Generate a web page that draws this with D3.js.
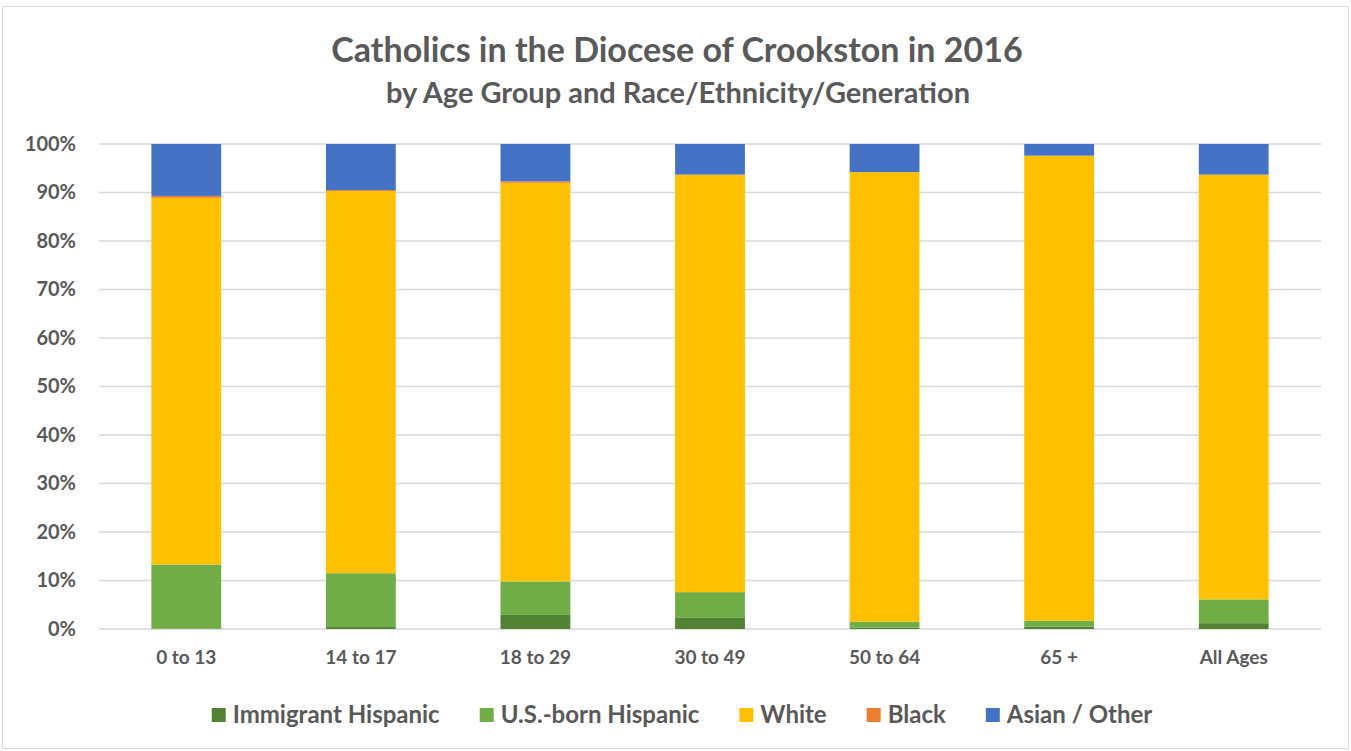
<!DOCTYPE html>
<html>
<head>
<meta charset="utf-8">
<script src="https://cdn.jsdelivr.net/npm/d3@7"></script>
<style>
  body { margin: 0; background: #fff; }
  svg { display: block; font-family: Lato, "Open Sans", sans-serif; }
</style>
</head>
<body>
<svg id="chart" width="1351" height="751"></svg>
<script>
const ageGroups = ['0 to 13', '14 to 17', '18 to 29', '30 to 49', '50 to 64', '65 +', 'All Ages'];
const seriesNames = ['Immigrant Hispanic', 'U.S.-born Hispanic', 'White', 'Black', 'Asian / Other'];
const immigrantHispanic = [0.1, 0.4, 2.9, 2.4, 0.3, 0.5, 1.2];
const usBornHispanic = [13.2, 11.1, 6.9, 5.2, 1.2, 1.2, 4.9];
const white = [75.6, 78.8, 82.2, 86.0, 92.7, 95.9, 87.5];
const black = [0.4, 0.2, 0.3, 0.1, 0.0, 0.0, 0.1];
const asianOther = [10.7, 9.5, 7.7, 6.3, 5.8, 2.4, 6.3];
const yTicks = [0, 10, 20, 30, 40, 50, 60, 70, 80, 90, 100];
const colors = ['#548235', '#70ad47', '#ffc000', '#ed7d31', '#4472c4'];

const svg = d3.select('#chart');
const width = +svg.attr('width');
const height = +svg.attr('height');
const margin = { top: 144, right: 30, bottom: 122, left: 99 };
const innerWidth = width - margin.left - margin.right;
const innerHeight = height - margin.top - margin.bottom;

// chart frame
svg.append('rect')
  .attr('x', 2.5).attr('y', 6.5)
  .attr('width', width - 5).attr('height', height - 9)
  .attr('fill', '#fff').attr('stroke', '#d9d9d9').attr('stroke-width', 1);

svg.append('text')
  .attr('x', 677).attr('y', 62)
  .attr('text-anchor', 'middle')
  .attr('font-size', 34).attr('font-weight', 700).attr('fill', '#595959')
  .text('Catholics in the Diocese of Crookston in 2016');
svg.append('text')
  .attr('x', 678).attr('y', 103)
  .attr('text-anchor', 'middle')
  .attr('font-size', 29).attr('font-weight', 700).attr('fill', '#595959')
  .text('by Age Group and Race/Ethnicity/Generation');

const rows = ageGroups.map((g, i) => ({
  group: g,
  [seriesNames[0]]: immigrantHispanic[i],
  [seriesNames[1]]: usBornHispanic[i],
  [seriesNames[2]]: white[i],
  [seriesNames[3]]: black[i],
  [seriesNames[4]]: asianOther[i]
}));
const stacked = d3.stack().keys(seriesNames)(rows);

const x = d3.scaleBand().domain(ageGroups).range([0, innerWidth]).paddingInner(0.6).paddingOuter(0.3);
const y = d3.scaleLinear().domain([0, 100]).range([innerHeight, 0]);

const g = svg.append('g').attr('transform', `translate(${margin.left},${margin.top})`);

// gridlines
g.append('g')
  .selectAll('line')
  .data(yTicks)
  .join('line')
  .attr('x1', 0).attr('x2', innerWidth)
  .attr('y1', d => y(d)).attr('y2', d => y(d))
  .attr('stroke', '#d9d9d9').attr('stroke-width', 1.5);

const yAxis = g.append('g')
  .call(d3.axisLeft(y).tickValues(yTicks).tickFormat(d => d + '%').tickSize(0).tickPadding(23));
yAxis.select('.domain').remove();
yAxis.selectAll('text')
  .attr('font-family', 'Lato, sans-serif')
  .attr('font-size', 20).attr('font-weight', 700).attr('fill', '#595959');

const xAxis = g.append('g')
  .attr('transform', `translate(0,${innerHeight})`)
  .call(d3.axisBottom(x).tickSize(0).tickPadding(22));
xAxis.select('.domain').remove();
xAxis.selectAll('text')
  .attr('font-family', 'Lato, sans-serif')
  .attr('font-size', 19).attr('font-weight', 700).attr('fill', '#595959');

g.append('g')
  .selectAll('g')
  .data(stacked)
  .join('g')
  .attr('fill', (d, i) => colors[i])
  .selectAll('rect')
  .data(d => d)
  .join('rect')
  .attr('x', d => x(d.data.group))
  .attr('width', x.bandwidth())
  .attr('y', d => y(d[1]))
  .attr('height', d => y(d[0]) - y(d[1]));

// legend
const legend = svg.append('g').attr('transform', 'translate(0,723)');
const items = legend.selectAll('g')
  .data(seriesNames)
  .join('g');
items.append('rect')
  .attr('width', 14).attr('height', 14).attr('y', -15)
  .attr('fill', (d, i) => colors[i]);
items.append('text')
  .attr('x', 21).attr('y', 0)
  .attr('font-size', 24).attr('font-weight', 700).attr('fill', '#595959')
  .text(d => d);
let offset = 0;
const gap = 40;
const widths = [];
items.each(function () {
  const w = 21 + this.querySelector('text').getComputedTextLength();
  widths.push(w);
});
const total = d3.sum(widths) + gap * (widths.length - 1);
const start = 682 - total / 2;
items.attr('transform', (d, i) => {
  const t = `translate(${start + offset},0)`;
  offset += widths[i] + gap;
  return t;
});
</script>
</body>
</html>
